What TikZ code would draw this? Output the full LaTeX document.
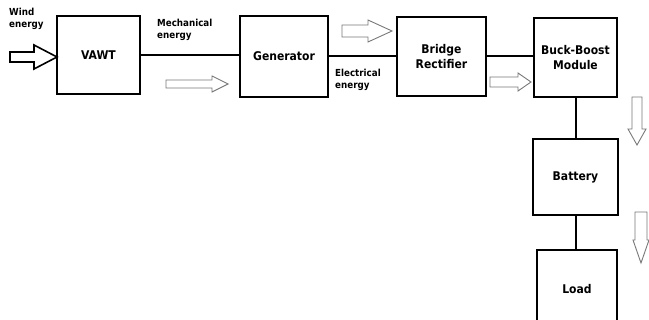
\documentclass[tikz,border=0pt]{standalone}
\usepackage{fontspec}
\setmainfont{DejaVu Sans Condensed}
\usepackage{tikz}
\usetikzlibrary{positioning,calc}
\definecolor{arrowgrey}{RGB}{120,120,120}
% hollow block arrow: style, tail centre, rotation, length, head length, shaft half, head half
\newcommand{\hollowarrow}[7]{\draw[#1,shift={#2},rotate=#3] (0,-#6) -- ({#4-#5},-#6) -- ({#4-#5},-#7) -- (#4,0) -- ({#4-#5},#7) -- ({#4-#5},#6) -- (0,#6) -- cycle;}

\begin{document}
\begin{tikzpicture}[x=1pt,y=-1pt,
  block/.style={draw,line width=2pt,font=\fontsize{12}{14.5}\selectfont\bfseries,align=center,inner sep=0pt},
  lbl/.style={font=\fontsize{9.7}{11.5}\selectfont\bfseries,align=left,anchor=north west,inner sep=0pt},
  link/.style={line width=2pt},
  flow/.style={draw=arrowgrey,line width=0.9pt},
  wind/.style={draw=black,line width=1.6pt}]
\path[use as bounding box,clip] (0,0) rectangle (649,320);
% blocks
\node[block,minimum width=83pt,minimum height=78pt] (vawt) at (98.5,55) {VAWT};
\node[block,minimum width=88pt,minimum height=81pt] (gen) at (284,56.5) {Generator};
\node[block,minimum width=89pt,minimum height=79pt] (rect) at (441.5,56.5) {Bridge\\Rectifier};
\node[block,minimum width=83pt,minimum height=79pt] (buck) at (575.5,57.5) {Buck-Boost\\Module};
\node[block,minimum width=85pt,minimum height=76pt] (batt) at (575.5,177) {Battery};
\node[block,minimum width=80pt,minimum height=78pt] (load) at (577,289) {Load};
% labels
\node[lbl] (windlbl) at (9,8) {Wind\\energy};
\node[lbl] (mechlbl) at (157,19) {Mechanical\\energy};
\node[lbl] (eleclbl) at (335,69) {Electrical\\energy};
% links
\draw[link] (vawt.east) -- (vawt.east -| gen.west);
\draw[link] (gen.east) -- (gen.east -| rect.west);
\draw[link] (rect.east) -- (rect.east -| buck.west);
\draw[link] (buck.south) -- (buck.south |- batt.north);
\draw[link] (batt.south) -- (batt.south |- load.north);
% power flow arrows
\hollowarrow{wind}{(10,57)}{0}{47}{23}{5}{12}
\hollowarrow{flow}{(166,84)}{0}{62}{16}{4}{8}
\hollowarrow{flow}{(342,31)}{0}{50}{24}{6}{11}
\hollowarrow{flow}{(490,82)}{0}{41}{13}{5}{9}
\hollowarrow{flow}{(637,97)}{-90}{48}{16}{5}{9}
\hollowarrow{flow}{(641,212)}{-90}{51}{23}{6}{8}
\end{tikzpicture}
\end{document}
